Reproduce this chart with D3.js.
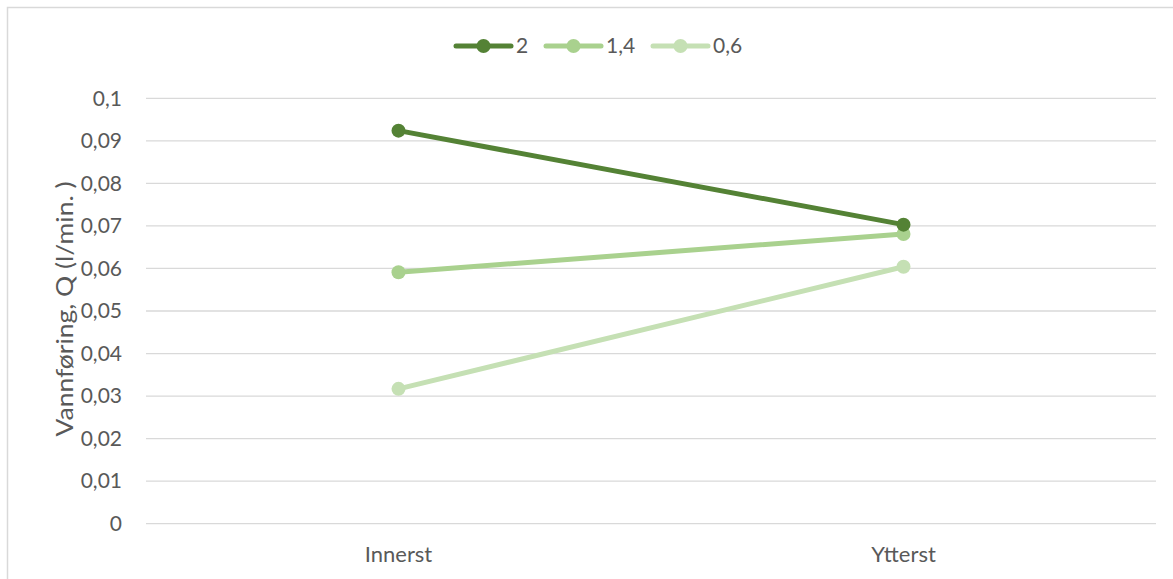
<!DOCTYPE html>
<html>
<head>
<meta charset="utf-8">
<script src="https://cdn.jsdelivr.net/npm/d3@7"></script>
<style>
  html, body { margin: 0; padding: 0; background: #fff; }
  svg { display: block; }
  text { font-family: Lato, "Open Sans", sans-serif; fill: #595959; }
</style>
</head>
<body>
<svg id="chart" width="1173" height="579"></svg>
<script>
// Measurement positions along the channel
const categories = ["Innerst", "Ytterst"];
// Series names (legend labels)
const seriesNames = ["2", "1,4", "0,6"];
// Discharge values, l/min, per series
const values2 = [0.0924, 0.0703];
const values14 = [0.0591, 0.0681];
const values06 = [0.0317, 0.0604];
const seriesColors = ["#548235", "#A9D18E", "#C5E0B4"];
const yTicks = [0, 0.01, 0.02, 0.03, 0.04, 0.05, 0.06, 0.07, 0.08, 0.09, 0.1];
const yTickLabels = ["0", "0,01", "0,02", "0,03", "0,04", "0,05", "0,06", "0,07", "0,08", "0,09", "0,1"];
const yTitle = "Vannføring, Q (l/min. )";

const series = [
  { name: seriesNames[0], values: values2, color: seriesColors[0] },
  { name: seriesNames[1], values: values14, color: seriesColors[1] },
  { name: seriesNames[2], values: values06, color: seriesColors[2] }
];

const svg = d3.select("#chart");

// Chart frame
svg.append("rect")
  .attr("x", 7.5).attr("y", 7.5)
  .attr("width", 1180).attr("height", 600)
  .attr("fill", "#fff")
  .attr("stroke", "#d9d9d9").attr("stroke-width", 1.5);

const plot = { left: 146, right: 1156, top: 98.3, bottom: 523.7 };

const x = d3.scaleBand().domain(categories).range([plot.left, plot.right]);
const y = d3.scaleLinear().domain([0, 0.1]).range([plot.bottom, plot.top]);

// Horizontal gridlines
svg.append("g")
  .selectAll("line")
  .data(yTicks)
  .join("line")
  .attr("x1", plot.left).attr("x2", plot.right)
  .attr("y1", d => y(d)).attr("y2", d => y(d))
  .attr("stroke", "#d9d9d9").attr("stroke-width", 1.3);

// Y axis labels
const yAxis = d3.axisLeft(y)
  .tickValues(yTicks)
  .tickFormat((d, i) => yTickLabels[i])
  .tickSize(0)
  .tickPadding(24);
const yg = svg.append("g").attr("transform", `translate(${plot.left},0)`).call(yAxis);
yg.select(".domain").remove();
yg.selectAll("text")
  .style("font-family", "Lato, 'Open Sans', sans-serif")
  .style("font-size", "21px")
  .attr("fill", "#595959");

// X axis labels
const xAxis = d3.axisBottom(x).tickSize(0).tickPadding(23);
const xg = svg.append("g").attr("transform", `translate(0,${plot.bottom})`).call(xAxis);
xg.select(".domain").remove();
xg.selectAll("text")
  .style("font-family", "Lato, 'Open Sans', sans-serif")
  .style("font-size", "22px")
  .attr("fill", "#595959");

// Y axis title
svg.append("text")
  .attr("transform", `translate(73,${(plot.top + plot.bottom) / 2 - 2}) rotate(-90)`)
  .attr("text-anchor", "middle")
  .attr("textLength", 255)
  .attr("lengthAdjust", "spacingAndGlyphs")
  .style("font-size", "23px")
  .text(yTitle);

// Series lines and markers
const cx = c => x(c) + x.bandwidth() / 2;
const line = d3.line()
  .x((d, i) => cx(categories[i]))
  .y(d => y(d));

const sg = svg.append("g")
  .selectAll("g")
  .data(series.slice().reverse())
  .join("g");

sg.append("path")
  .attr("d", d => line(d.values))
  .attr("fill", "none")
  .attr("stroke", d => d.color)
  .attr("stroke-width", 5)
  .attr("stroke-linecap", "round");

sg.selectAll("circle")
  .data(d => d.values.map((v, i) => ({ v, i, color: d.color })))
  .join("circle")
  .attr("cx", d => cx(categories[d.i]))
  .attr("cy", d => y(d.v))
  .attr("r", 7)
  .attr("fill", d => d.color);

// Legend
const legendX = [456, 546, 653];
const legend = svg.append("g")
  .selectAll("g")
  .data(series)
  .join("g")
  .attr("transform", (d, i) => `translate(${legendX[i]},46)`);
legend.append("line")
  .attr("x1", 0).attr("x2", 55)
  .attr("stroke", d => d.color)
  .attr("stroke-width", 5)
  .attr("stroke-linecap", "round");
legend.append("circle")
  .attr("cx", 27.5).attr("r", 7)
  .attr("fill", d => d.color);
legend.append("text")
  .attr("x", 60).attr("dy", "0.35em")
  .style("font-size", "21px")
  .text(d => d.name);
</script>
</body>
</html>
